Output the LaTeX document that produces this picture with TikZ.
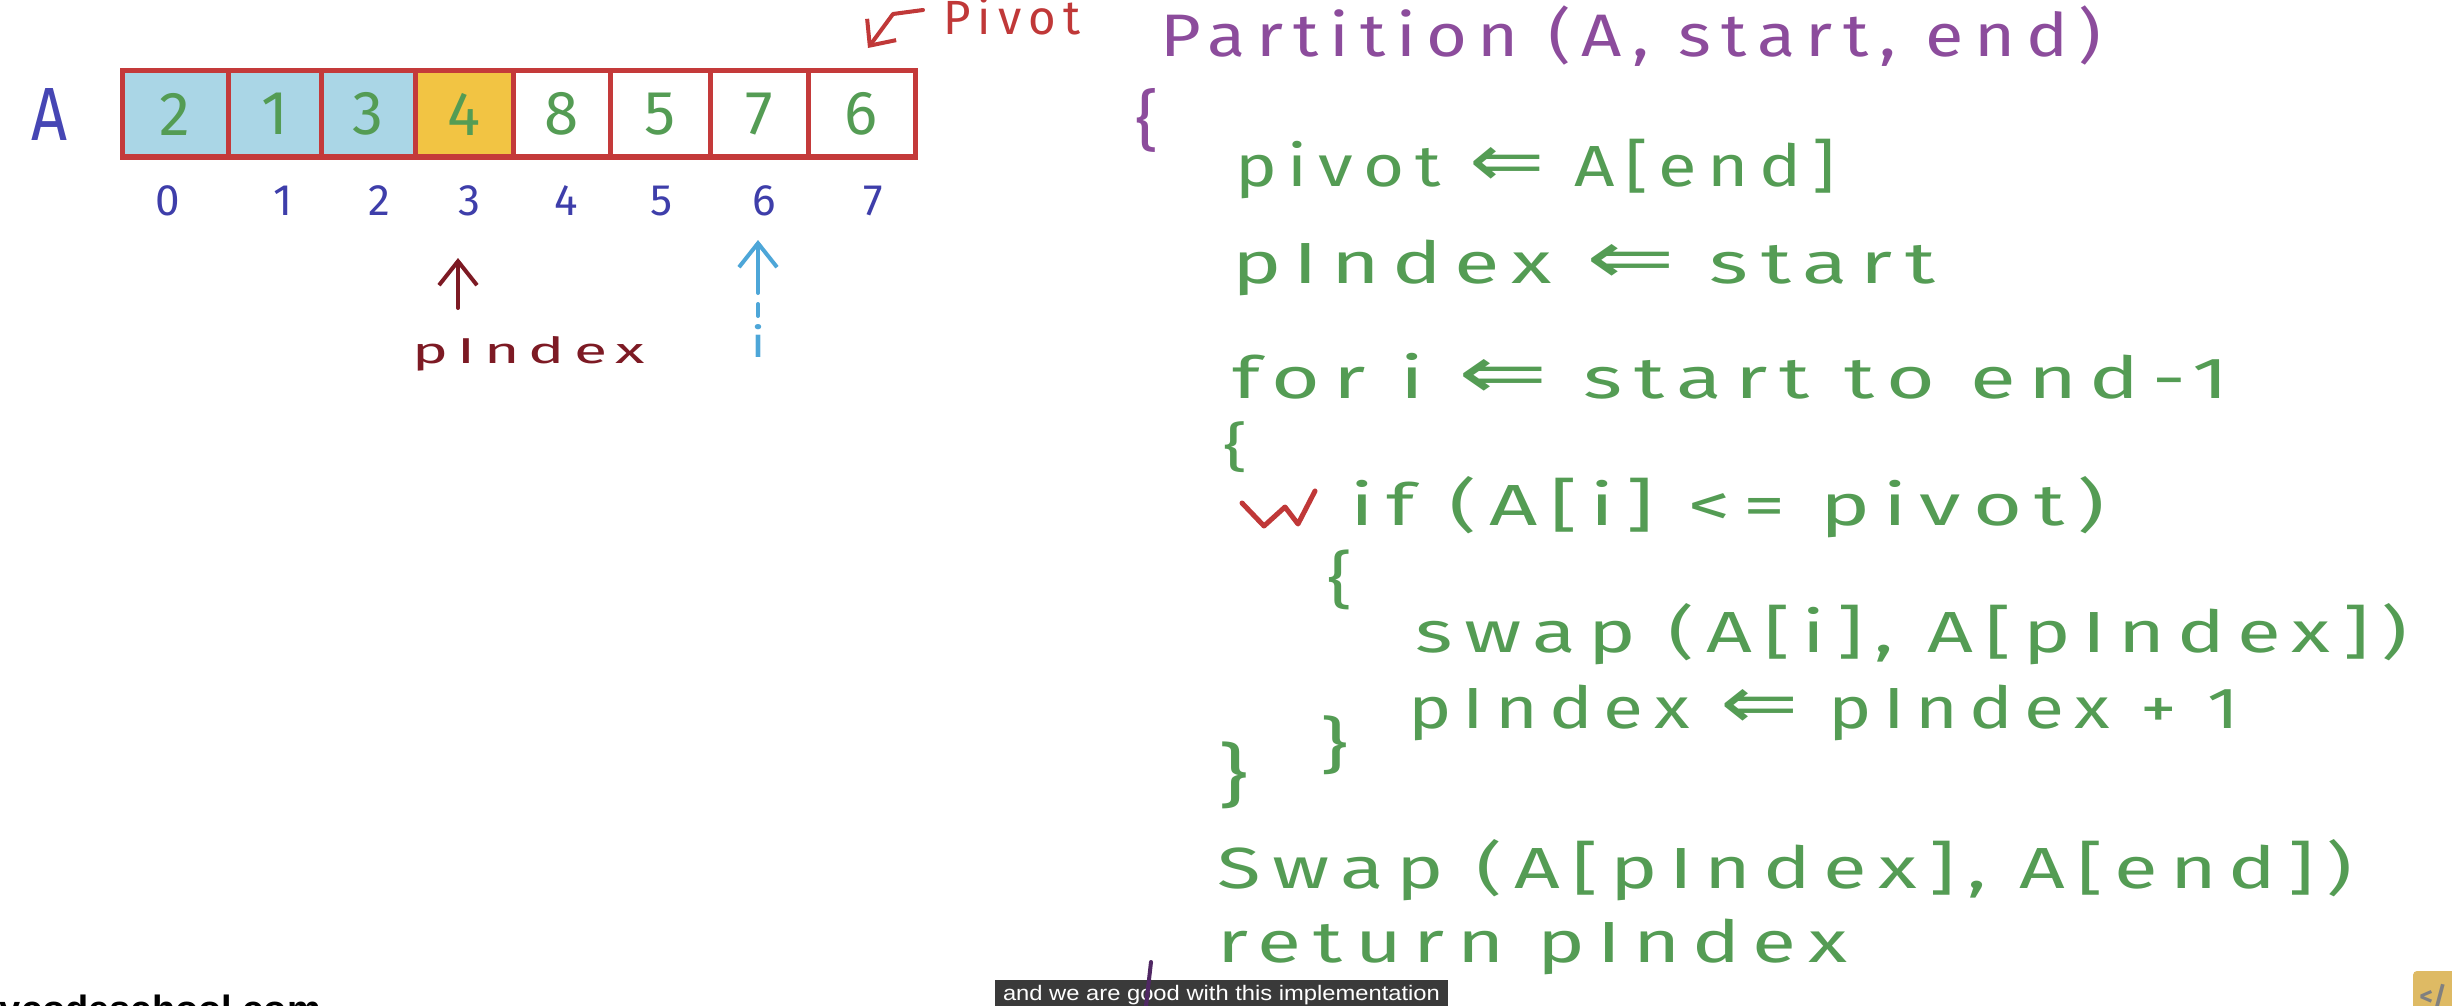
\documentclass[tikz,border=0pt]{standalone}
\usepackage{fontspec}
\usepackage{graphicx}
\usetikzlibrary{arrows.meta}
\setmainfont{Fira Sans}
\newfontfamily\handfont[LetterSpace=15]{Fira Sans}
\newfontfamily\plainhand{Fira Sans}
\newfontfamily\symfont{DejaVu Sans}
\newfontfamily\capfont{Liberation Sans}
\newcommand{\lar}{{\symfont\fontsize{74}{74}\selectfont ⇐}}
\newcommand{\fitw}[2]{\resizebox{#1pt}{\height}{#2}}
\newcommand{\fitb}[3]{\resizebox*{#1pt}{#2pt}{#3}}
\definecolor{cellred}{RGB}{196,58,58}
\definecolor{cellblue}{RGB}{170,214,230}
\definecolor{cellgold}{RGB}{242,196,67}
\definecolor{codegreen}{RGB}{84,156,84}
\definecolor{idxblue}{RGB}{62,62,170}
\definecolor{lblblue}{RGB}{70,70,180}
\definecolor{pidxred}{RGB}{125,26,36}
\definecolor{iblue}{RGB}{77,166,216}
\definecolor{pivred}{RGB}{192,56,56}
\definecolor{fnpurple}{RGB}{140,76,156}
\definecolor{capgray}{RGB}{58,58,58}
\definecolor{logoyel}{RGB}{222,186,100}
\definecolor{penpurple}{RGB}{80,40,100}
\begin{document}
\begin{tikzpicture}[x=1pt,y=-1pt,
  cell/.style={draw=cellred, line width=5pt, minimum height=86pt, inner sep=0pt,
    text=codegreen, font=\plainhand\fontsize{62}{64}\selectfont},
  idx/.style={inner sep=0pt, text=idxblue, font=\plainhand\fontsize{44}{46}\selectfont},
  codeline/.style={anchor=base west, inner sep=0pt, text=codegreen,
    font=\handfont\fontsize{58}{60}\selectfont},
  headline/.style={codeline, text=fnpurple, font=\handfont\fontsize{60}{62}\selectfont},
  brace/.style={inner sep=0pt, text=codegreen, font=\plainhand\fontsize{58}{60}\selectfont},
  ptr/.style={line width=4pt, line cap=round, -{Straight Barb[length=24pt,width=38pt]}},
]
\useasboundingbox (0,0) rectangle (2452,1006);
\fill[white] (0,0) rectangle (2452,1006);
\clip (0,0) rectangle (2452,1006);

% array label
\node[inner sep=0pt, text=lblblue, font=\plainhand\fontsize{72}{74}\selectfont] (lblA) at (50,114) {\fitb{36}{52}{A}};

% cells
\node[cell, fill=cellblue, minimum width=106pt] (c0) at (175,114) {2};
\node[cell, fill=cellblue, minimum width=93pt] (c1) at (274.5,114) {1};
\node[cell, fill=cellblue, minimum width=94pt] (c2) at (368,114) {3};
\node[cell, fill=cellgold, minimum width=98pt] (c3) at (464,114) {4};
\node[cell, fill=white, minimum width=97pt] (c4) at (561.5,114) {8};
\node[cell, fill=white, minimum width=100pt] (c5) at (660,114) {5};
\node[cell, fill=white, minimum width=98pt] (c6) at (759,114) {7};
\node[cell, fill=white, minimum width=107pt] (c7) at (861.5,114) {6};

% indices
\node[idx] (i0) at (168,201) {0};
\node[idx] (i1) at (283,201) {1};
\node[idx] (i2) at (379,201) {2};
\node[idx] (i3) at (469,201) {3};
\node[idx] (i4) at (566,201) {4};
\node[idx] (i5) at (662,201) {5};
\node[idx] (i6) at (764,201) {6};
\node[idx] (i7) at (873,201) {7};

% pIndex pointer
\coordinate (pa1) at (458,308);
\coordinate (pa2) at (458,258);
\draw[ptr, draw=pidxred] (pa1) -- (pa2);
\node[anchor=base west, inner sep=0pt, text=pidxred, font=\handfont\fontsize{36}{38}\selectfont] (plbl) at (412,363) {\fitw{233}{pIndex}};

% i pointer
\coordinate (ia1) at (758,293);
\coordinate (ia2) at (758,240);
\draw[ptr, draw=iblue] (ia1) -- (ia2);
\coordinate (id1) at (758,304);
\coordinate (id2) at (758,316);
\draw[draw=iblue, line width=4pt, line cap=round] (id1) -- (id2);
\node[inner sep=0pt, text=iblue, font=\plainhand\fontsize{34}{36}\selectfont] (ilbl) at (758,340.5) {\fitb{14}{33}{i}};

% pivot marker
\coordinate (pv1) at (923,10);
\coordinate (pv2) at (893,14);
\coordinate (pv3) at (868,48);
\draw[line width=4pt, line cap=round, line join=round, draw=pivred, -{Straight Barb[length=20pt,width=36pt]}] (pv1) -- (pv2) -- (pv3);
\node[anchor=base west, inner sep=0pt, text=pivred, font=\handfont\fontsize{48}{50}\selectfont] (pivlbl) at (943,35) {\fitw{137}{Pivot}};

% code
\node[headline] (l0) at (1160,57) {\fitw{941}{Partition (A, start, end)}};
\node[brace, text=fnpurple] (b1) at (1147,120) {\fitb{23}{64}{\{}};
\node[codeline] (l1) at (1235,186) {\fitw{600}{pivot \lar{} A[end]}};
\node[codeline] (l2) at (1232,283) {\fitw{703}{pIndex \lar{} start}};
\node[codeline] (l3) at (1232,398) {\fitw{997}{for i \lar{} start to end-1}};
\node[brace] (b2) at (1235,447) {\fitb{24}{51}{\{}};
\coordinate (ck1) at (1242,503);
\coordinate (ck2) at (1264,526);
\coordinate (ck3) at (1285,507);
\coordinate (ck4) at (1298,524);
\coordinate (ck5) at (1315,491);
\draw[draw=pivred, line width=5pt, line cap=round, line join=round] (ck1) -- (ck2) -- (ck3) -- (ck4) -- (ck5);
\node[codeline] (l4) at (1350,525) {\fitw{755}{if (A[i] <= pivot)}};
\node[brace] (b3) at (1340,580) {\fitb{25}{60}{\{}};
\node[codeline] (l5) at (1415,652) {\fitw{992}{swap (A[i], A[pIndex])}};
\node[codeline] (l6) at (1408,728) {\fitw{831}{pIndex \lar{} pIndex + 1}};
\node[brace] (b4) at (1334,745) {\fitb{28}{59}{\}}};
\node[brace] (b5) at (1233,775) {\fitb{30}{67}{\}}};
\node[codeline] (l7) at (1217,888) {\fitw{1135}{Swap (A[pIndex], A[end])}};
\node[codeline] (l8) at (1217,962) {\fitw{630}{return pIndex}};

% footer items
\node[anchor=base west, inner sep=0pt, text=black, font=\capfont\bfseries\fontsize{38}{40}\selectfont] (site) at (-34,1022) {mycodeschool.com};
\node[fill=capgray, text=white, minimum width=453pt, minimum height=30pt, inner sep=0pt,
  font=\capfont\fontsize{21}{23}\selectfont] (cap) at (1221.5,995) {\fitw{437}{and we are good with this implementation}};
\coordinate (pp1) at (1151,962);
\coordinate (pp2) at (1146,1006);
\draw[draw=penpurple, line width=4pt, line cap=round] (pp1) -- (pp2);
\node[fill=logoyel, minimum width=44pt, minimum height=40pt, inner sep=0pt, rounded corners=4pt] (logo) at (2435,991) {};
\node[inner sep=0pt, text=gray, font=\plainhand\bfseries\fontsize{26}{28}\selectfont] (logotxt) at (2433,996) {</};
\end{tikzpicture}
\end{document}
